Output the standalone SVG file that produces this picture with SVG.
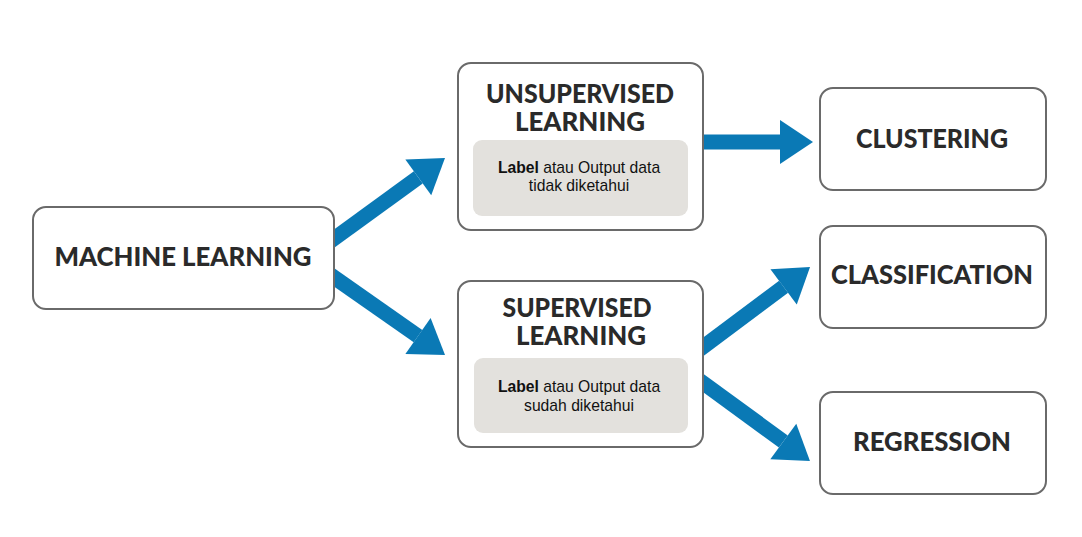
<svg xmlns="http://www.w3.org/2000/svg" width="1082" height="537" viewBox="0 0 1082 537">
  <style>
    .box { fill: #ffffff; stroke: #6a6a6a; stroke-width: 2; }
    .inner { fill: #e3e1dd; stroke: none; }
    .head { font-family: Lato, "DejaVu Sans", sans-serif; font-weight: 900; font-size: 27px; fill: #2a2a2a; text-anchor: middle; }
    .body { font-family: "Liberation Sans", Arial, sans-serif; font-size: 15.7px; fill: #111111; text-anchor: middle; }
    .conn { stroke: #0a79b5; stroke-width: 15; fill: none; marker-end: url(#ah); }
  </style>
  <defs>
    <marker id="ah" markerUnits="userSpaceOnUse" markerWidth="34" markerHeight="46" viewBox="0 -23 34 46" refX="0" refY="0" orient="auto" overflow="visible">
      <path d="M0,-22 L33,0 L0,22 z" fill="#0a79b5"/>
    </marker>
  </defs>
  <rect width="1082" height="537" fill="#ffffff"/>
  <g id="connectors">
    <line class="conn" x1="325" y1="245.3" x2="418.3" y2="177.4"/>
    <line class="conn" x1="325" y1="271" x2="418" y2="336.1"/>
    <line class="conn" x1="700" y1="142" x2="780" y2="142"/>
    <line class="conn" x1="695" y1="353" x2="783.6" y2="286.8"/>
    <line class="conn" x1="695" y1="377" x2="783.3" y2="441.5"/>
  </g>
  <g id="machine-learning">
    <rect class="box" x="33" y="207" width="301" height="102" rx="13"/>
    <text class="head" x="183" y="266" textLength="257" lengthAdjust="spacingAndGlyphs">MACHINE LEARNING</text>
  </g>
  <g id="unsupervised">
    <rect class="box" x="458" y="63" width="245" height="167" rx="13"/>
    <text class="head" x="580" y="103" textLength="188" lengthAdjust="spacingAndGlyphs">UNSUPERVISED</text>
    <text class="head" x="580" y="131" textLength="130" lengthAdjust="spacingAndGlyphs">LEARNING</text>
    <rect class="inner" x="473" y="140" width="215" height="76" rx="9"/>
    <text class="body" x="579" y="173"><tspan font-weight="bold">Label</tspan> atau Output data</text>
    <text class="body" x="579" y="191">tidak diketahui</text>
  </g>
  <g id="supervised">
    <rect class="box" x="458" y="281" width="245" height="166" rx="13"/>
    <text class="head" x="577" y="317" textLength="149" lengthAdjust="spacingAndGlyphs">SUPERVISED</text>
    <text class="head" x="581" y="345" textLength="130" lengthAdjust="spacingAndGlyphs">LEARNING</text>
    <rect class="inner" x="474" y="358" width="214" height="75" rx="9"/>
    <text class="body" x="579" y="392"><tspan font-weight="bold">Label</tspan> atau Output data</text>
    <text class="body" x="579" y="411">sudah diketahui</text>
  </g>
  <g id="clustering">
    <rect class="box" x="820" y="88" width="226" height="102" rx="13"/>
    <text class="head" x="932" y="148" textLength="152" lengthAdjust="spacingAndGlyphs">CLUSTERING</text>
  </g>
  <g id="classification">
    <rect class="box" x="820" y="226" width="226" height="102" rx="13"/>
    <text class="head" x="932" y="284" textLength="202" lengthAdjust="spacingAndGlyphs">CLASSIFICATION</text>
  </g>
  <g id="regression">
    <rect class="box" x="820" y="392" width="226" height="102" rx="13"/>
    <text class="head" x="932" y="451" textLength="158" lengthAdjust="spacingAndGlyphs">REGRESSION</text>
  </g>
</svg>
